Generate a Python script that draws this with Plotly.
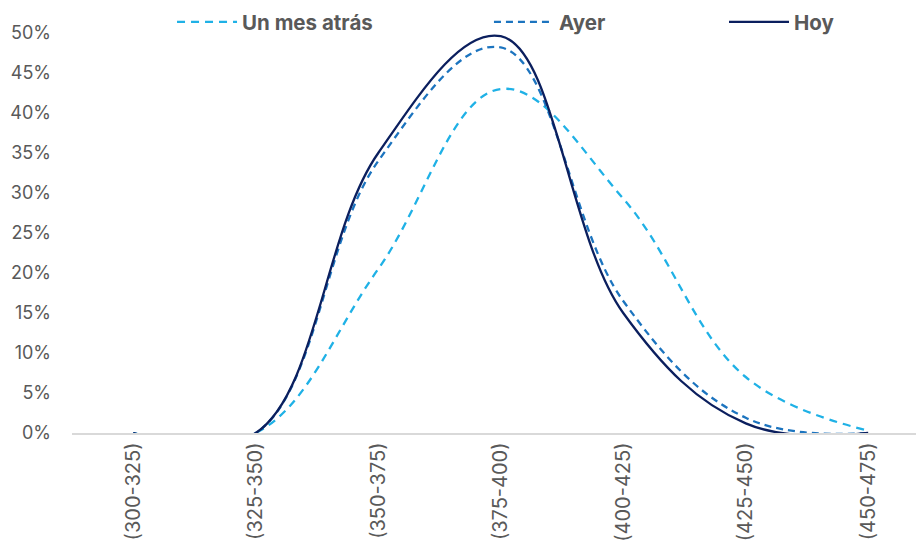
import plotly.graph_objects as go

categories = ["(300-325)", "(325-350)", "(350-375)", "(375-400)", "(400-425)", "(425-450)", "(450-475)"]
un_mes_atras = [0.0, 0.0, 0.205, 0.43, 0.293, 0.07, 0.003]
ayer = [0.0, 0.0, 0.34, 0.482, 0.165, 0.019, 0.0]
hoy = [0.0, 0.0, 0.35, 0.496, 0.15, 0.012, 0.0]

series_names = ["Un mes atrás", "Ayer", "Hoy"]
colors = ["#1FB1E6", "#1C74BF", "#0B1F5E"]
dashes = ["8px,6px", "7px,5px", "solid"]
legend_ids = ["legend", "legend2", "legend3"]
legend_x = [0.1878, 0.5338, 0.7904]

fig = go.Figure()
for name, vals, col, dash, lg in zip(series_names, [un_mes_atras, ayer, hoy], colors, dashes, legend_ids):
    fig.add_trace(go.Scatter(
        x=categories, y=vals, name=name, mode="lines",
        line=dict(color=col, width=2.3, dash=dash, shape="spline", smoothing=1.1),
        legend=lg, hoverinfo="skip",
    ))

font_family = "Inter, Roboto, sans-serif"
legend_common = dict(orientation="h", yanchor="middle", xanchor="left",
                     xref="container", yref="container", y=1 - 22 / 544,
                     font=dict(family=font_family, size=20.5, color="#595959", weight="bold"),
                     bgcolor="rgba(0,0,0,0)", itemwidth=60, tracegroupgap=0)
layout_legends = {}
for lg, lx in zip(legend_ids, legend_x):
    d = dict(legend_common)
    d["x"] = lx
    layout_legends[lg] = d

fig.update_layout(
    width=916, height=544,
    margin=dict(l=72, r=0, t=33, b=111, autoexpand=False),
    paper_bgcolor="white", plot_bgcolor="white",
    showlegend=True,
    xaxis=dict(
        type="category", range=[-0.5, 6.39], tickangle=-90, automargin=False,
        showgrid=False, showline=True, linecolor="#D9D9D9", linewidth=1.5,
        ticks="", tickfont=dict(family=font_family, size=20, color="#595959"),
        zeroline=False,
    ),
    yaxis=dict(
        range=[0, 0.5], dtick=0.05, tickformat=".0%", automargin=False,
        showgrid=False, showline=False, zeroline=False, ticks="",
        tickfont=dict(family=font_family, size=18, color="#595959"),
        ticklabelstandoff=20,
    ),
    **layout_legends,
)

fig.write_html(
    "out.html",
    config={"displayModeBar": False, "staticPlot": True},
    post_script="document.body.style.margin='0';document.body.style.overflow='hidden';",
)
